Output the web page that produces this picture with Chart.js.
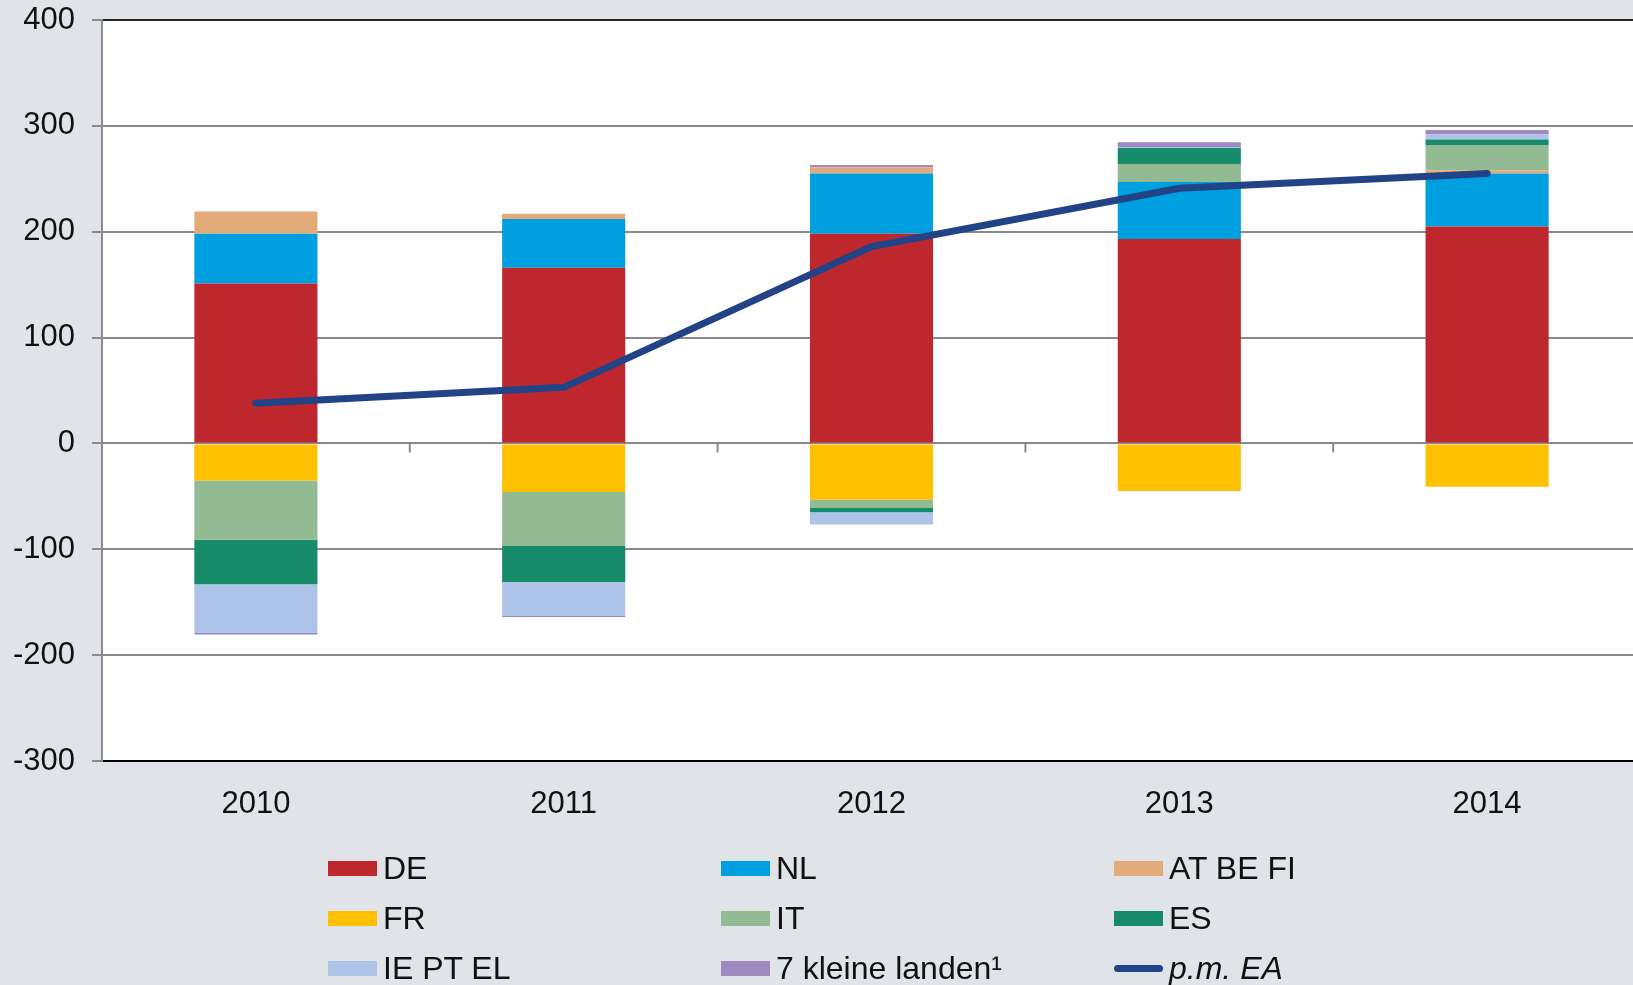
<!DOCTYPE html>
<html lang="nl">
<head>
<meta charset="UTF-8">
<title>Bijdragen per land</title>
<script src="https://cdn.jsdelivr.net/npm/chart.js@4.4.0/dist/chart.umd.min.js"></script>
<style>
    * { margin: 0; padding: 0; box-sizing: border-box; }
    body {
        background: #e0e3e8;
        font-family: "Liberation Sans", Arial, sans-serif;
        width: 1633px;
        height: 985px;
        overflow: hidden;
        position: relative;
    }
    /* slightly wider than the window: the plot runs off the right edge */
    .chart-box {
        position: absolute;
        left: 0;
        top: 0;
        width: 1641px;
        height: 985px;
    }
    /* legend in three fixed columns */
    #legend {
        position: absolute;
        left: 328px;
        top: 843px;
        display: grid;
        grid-template-columns: 393px 393px 393px;
        row-gap: 0;
    }
    .legend-item {
        display: flex;
        align-items: center;
        height: 50px;
        font-size: 32px;
        color: #111;
        white-space: nowrap;
    }
    .legend-swatch {
        width: 49px;
        height: 15px;
        margin-right: 6px;
    }
    .legend-line {
        width: 49px;
        height: 7px;
        border-radius: 4px;
        margin-right: 6px;
    }
    .legend-item.italic { font-style: italic; }
</style>
</head>
<body>
<div class="chart-box">
    <canvas id="chart"></canvas>
</div>
<div id="legend"></div>

<script>
    // Data
    const years = ['2010', '2011', '2012', '2013', '2014'];
    const yTicks = [400, 300, 200, 100, 0, -100, -200, -300];

    const de     = [151, 166, 198, 193, 205];
    const nl     = [47, 46, 57, 54, 50];
    const atBeFi = [21, 5, 6, -1, 3];
    const fr     = [-35, -46, -53, -44, -41];
    const it     = [-56, -51, -8, 17, 24];
    const es     = [-42, -34, -4, 15, 5];
    const iePtEl = [-46, -32, -11.5, 1, 5];
    const klein  = [-1.5, -1, 2, 4.5, 4];
    const pmEA   = [38, 53, 186, 241, 255];

    const barSeries = [
        { label: 'DE', data: de, color: '#be272d' },
        { label: 'NL', data: nl, color: '#009fdf' },
        { label: 'AT BE FI', data: atBeFi, color: '#e4ab7a' },
        { label: 'FR', data: fr, color: '#ffc000' },
        { label: 'IT', data: it, color: '#92bb93' },
        { label: 'ES', data: es, color: '#168b69' },
        { label: 'IE PT EL', data: iePtEl, color: '#adc2e7' },
        { label: '7 kleine landen\u00b9', data: klein, color: '#9f8abf' }
    ];

    const datasets = barSeries.map(s => ({
        type: 'bar',
        label: s.label,
        data: s.data,
        backgroundColor: s.color,
        borderWidth: 0,
        barPercentage: 0.8,
        categoryPercentage: 0.5,
        order: 1
    }));

    datasets.push({
        type: 'line',
        label: 'p.m. EA',
        data: pmEA,
        borderColor: '#224486',
        backgroundColor: '#224486',
        borderWidth: 7,
        borderCapStyle: 'round',
        pointRadius: 0,
        tension: 0,
        order: 0
    });

    // white plot area
    const plotBackground = {
        id: 'plotBackground',
        beforeDraw(chart) {
            const { ctx, chartArea } = chart;
            ctx.save();
            ctx.fillStyle = '#ffffff';
            ctx.fillRect(chartArea.left, chartArea.top, chartArea.right - chartArea.left, chartArea.bottom - chartArea.top);
            ctx.restore();
        }
    };

    // small category ticks hanging under the zero line
    const zeroTicks = {
        id: 'zeroTicks',
        beforeDatasetsDraw(chart) {
            const { ctx, scales } = chart;
            const x = scales.x, y = scales.y;
            const y0 = y.getPixelForValue(0);
            ctx.save();
            ctx.strokeStyle = '#8a8a8a';
            ctx.lineWidth = 2;
            for (let i = 0; i < years.length - 1; i++) {
                const xb = (x.getPixelForTick(i) + x.getPixelForTick(i + 1)) / 2;
                ctx.beginPath();
                ctx.moveTo(xb, y0);
                ctx.lineTo(xb, y0 + 9);
                ctx.stroke();
            }
            ctx.restore();
        }
    };

    const chart = new Chart(document.getElementById('chart'), {
        data: { labels: years, datasets: datasets },
        options: {
            responsive: true,
            maintainAspectRatio: false,
            animation: false,
            layout: { padding: { top: 20, right: 0, bottom: 0, left: 0 } },
            plugins: {
                legend: { display: false },
                tooltip: { enabled: false }
            },
            scales: {
                x: {
                    stacked: true,
                    grid: { display: false },
                    border: { display: true, color: '#000', width: 2 },
                    ticks: {
                        color: '#111',
                        padding: 17,
                        font: { family: 'Liberation Sans', size: 31 }
                    },
                    afterFit(scale) { scale.height = 224; }
                },
                y: {
                    stacked: true,
                    min: -300,
                    max: 400,
                    afterBuildTicks(scale) {
                        scale.ticks = yTicks.map(v => ({ value: v }));
                    },
                    grid: {
                        color: ctx => (ctx.tick && ctx.tick.value === 400) ? '#222' : '#8a8a8a',
                        tickColor: '#8a8a8a',
                        lineWidth: 2,
                        tickLength: 10
                    },
                    border: { display: true, color: '#8a8a8a', width: 2 },
                    ticks: {
                        color: '#111',
                        padding: 17,
                        font: { family: 'Liberation Sans', size: 31 }
                    },
                    afterFit(scale) {
                        scale.width = 102;
                        scale.paddingTop = 0;
                        scale.paddingBottom = 0;
                    }
                }
            }
        },
        plugins: [plotBackground, zeroTicks]
    });

    // HTML legend from the datasets
    const legend = document.getElementById('legend');
    chart.data.datasets.forEach(ds => {
        const item = document.createElement('div');
        item.className = 'legend-item' + (ds.type === 'line' ? ' italic' : '');
        const mark = document.createElement('span');
        mark.className = ds.type === 'line' ? 'legend-line' : 'legend-swatch';
        mark.style.background = ds.type === 'line' ? ds.borderColor : ds.backgroundColor;
        const text = document.createElement('span');
        text.textContent = ds.label;
        item.appendChild(mark);
        item.appendChild(text);
        legend.appendChild(item);
    });
</script>
</body>
</html>
